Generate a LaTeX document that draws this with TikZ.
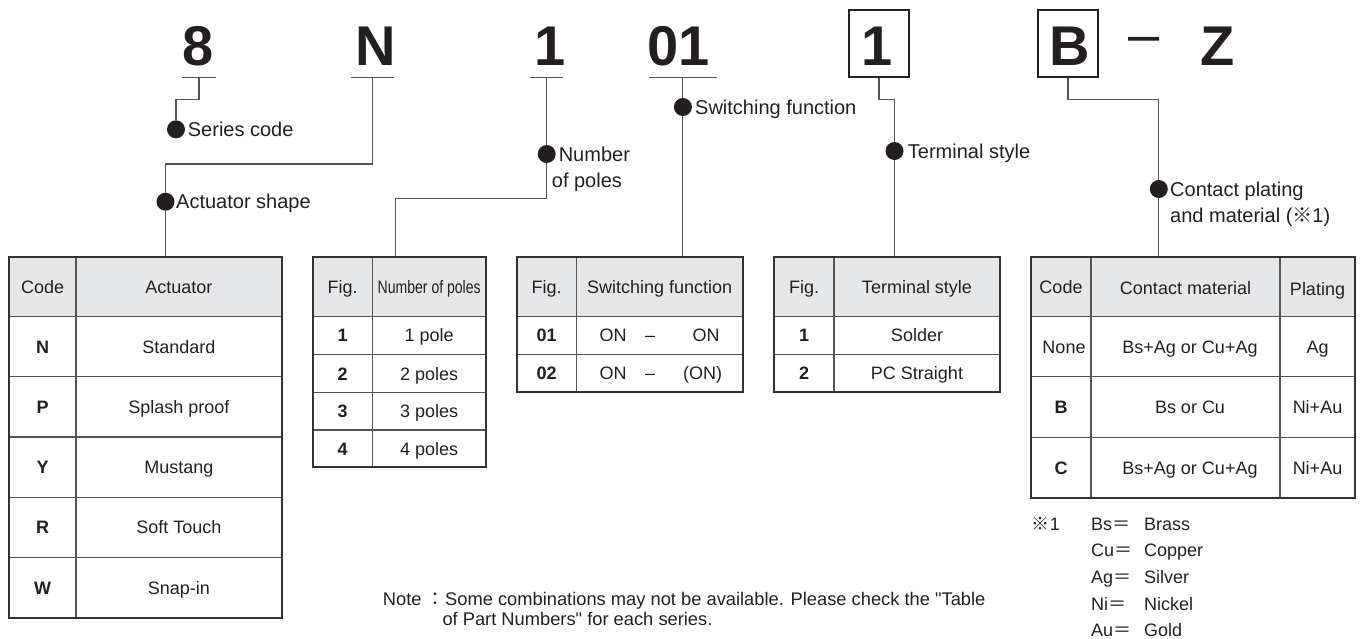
\documentclass[tikz,border=0pt]{standalone}
\usepackage{fontspec}
\setmainfont{Liberation Sans}
\newfontfamily\cjk{Noto Sans CJK JP}
\newfontfamily\narrowfont[FakeStretch=0.78]{Liberation Sans}
\newfontfamily\qfont[Ligatures=TeXOff]{Liberation Sans}
\definecolor{ink}{HTML}{231F20}
\definecolor{hdr}{HTML}{E6E7E8}
\definecolor{wire}{HTML}{555555}
\definecolor{rule}{HTML}{333333}
\newcommand{\dq}{{\qfont"}}
\tikzset{
  wireline/.style={draw=wire, line width=1.1pt},
  uline/.style={draw=wire, line width=1.1pt},
  bullet/.style={circle, fill=ink, inner sep=0pt, minimum size=18pt},
  lbl/.style={anchor=base west, font=\fontsize{20}{24}\selectfont, text=ink, inner sep=0pt},
  big/.style={anchor=base, font=\fontsize{56}{60}\selectfont\bfseries, text=ink, inner sep=0pt},
  dashchar/.style={anchor=base, font=\fontsize{56}{60}\selectfont, text=ink, inner sep=0pt},
  codebox/.style={draw=ink, line width=1.3pt, minimum width=60pt, minimum height=67pt, inner sep=0pt},
  cell/.style={inner sep=0pt, text height=13pt, text depth=0pt, text=ink, font=\fontsize{18}{22}\selectfont},
  codecell/.style={cell, font=\fontsize{18}{22}\selectfont\bfseries},
  outerrule/.style={draw=rule, line width=1.8pt},
  innerrule/.style={draw=wire, line width=1.2pt},
  small/.style={anchor=base west, inner sep=0pt, text=ink, font=\fontsize{18}{22}\selectfont},
  notetext/.style={anchor=base west, inner sep=0pt, text=ink, font=\fontsize{18.3}{22}\selectfont},
}
\begin{document}
\begin{tikzpicture}[x=1pt,y=-1pt]
\useasboundingbox (0,0) rectangle (1360,638);

% ---------- code characters ----------
\node[big] (c8) at (198,65.5) {8};
\node[big] (cN) at (376,65.5) {N};
\node[big] (c1) at (550,65.5) {1};
\node[big] (c01) at (678.5,65.5) {01};
\node[codebox] (b1) at (879,43.6) {};
\node[big] (c1b) at (877,65.5) {1};
\node[codebox] (bB) at (1068,43.6) {};
\node[big] (cB) at (1069.5,65.5) {B};
\node[dashchar] (cdash) at (1144,53) {–};
\node[big] (cZ) at (1217.5,65.5) {Z};

\coordinate (u8) at (199,77.3);
\coordinate (uN) at (372.7,77.3);
\coordinate (u1) at (546.7,77.3);
\coordinate (u01) at (682.9,77.3);
\draw[uline] (182,77.3) -- (216,77.3);
\draw[uline] (351,77.3) -- (394,77.3);
\draw[uline] (530,77.3) -- (563,77.3);
\draw[uline] (649,77.3) -- (717,77.3);

% ---------- bullets and labels ----------
\node[bullet] (dSeries) at (176,129.3) {};
\node[lbl] (lSeries) at (187.7,136.5) {Series code};
\node[bullet] (dAct) at (165.5,201.7) {};
\node[lbl] (lAct) at (176,208.7) {Actuator shape};
\node[bullet] (dPoles) at (546.7,154) {};
\node[lbl] (lPoles1) at (558.6,161) {Number};
\node[lbl] (lPoles2) at (551.7,187) {of poles};
\node[bullet] (dSw) at (682.9,107) {};
\node[lbl] (lSw) at (695,114) {Switching function};
\node[bullet] (dTerm) at (894.5,151) {};
\node[lbl] (lTerm) at (907.7,158) {Terminal style};
\node[bullet] (dCont) at (1158.8,189) {};
\node[lbl] (lCont1) at (1170,196) {Contact plating};
\node[lbl] (lCont2) at (1170,222) {and material ({\cjk ※}1)};

% table top attach points
\coordinate (T1top) at (165.5,256.7);
\coordinate (T2top) at (395.7,256.7);
\coordinate (T3top) at (682.9,256.7);
\coordinate (T4top) at (894.5,256.7);
\coordinate (T5top) at (1158.8,256.7);

% ---------- connectors ----------
\draw[wireline] (u8) -- (199,99.3) -| (dSeries);
\draw[wireline] (uN) -- (372.7,164) -| (dAct) -- (T1top);
\draw[wireline] (u1) -- (dPoles) -- (546.7,198.3) -| (T2top);
\draw[wireline] (u01) -- (dSw) -- (T3top);
\draw[wireline] (b1.south) -- (879,99.3) -| (dTerm) -- (T4top);
\draw[wireline] (bB.south) -- (1068,99.3) -| (dCont) -- (T5top);

% ---------- table 1 : actuator ----------
\fill[hdr] (9.3,256.7) rectangle (281.7,316.3);
\foreach \y in {316.3,376.6,436.9,497.2,557.5} \draw[innerrule] (9.3,\y) -- (281.7,\y);
\draw[innerrule] (76,256.7) -- (76,618);
\draw[outerrule] (9.3,256.7) rectangle (281.7,618);
\node[cell] (t1h1) at (42.7,286.5) {Code};
\node[cell] (t1h2) at (178.8,286.5) {Actuator};
\node[codecell] (t1c1) at (42.7,346.5) {N};
\node[cell] (t1v1) at (178.8,346.5) {Standard};
\node[codecell] (t1c2) at (42.7,406.8) {P};
\node[cell] (t1v2) at (178.8,406.8) {Splash proof};
\node[codecell] (t1c3) at (42.7,467.1) {Y};
\node[cell] (t1v3) at (178.8,467.1) {Mustang};
\node[codecell] (t1c4) at (42.7,527.4) {R};
\node[cell] (t1v4) at (178.8,527.4) {Soft Touch};
\node[codecell] (t1c5) at (42.7,587.7) {W};
\node[cell] (t1v5) at (178.8,587.7) {Snap-in};

% ---------- table 2 : poles ----------
\fill[hdr] (312.7,256.7) rectangle (485.7,316.3);
\foreach \y in {316.3,354.3,392.7,430} \draw[innerrule] (312.7,\y) -- (485.7,\y);
\draw[innerrule] (372.7,256.7) -- (372.7,467.3);
\draw[outerrule] (312.7,256.7) rectangle (485.7,467.3);
\node[cell] (t2h1) at (342.7,286.5) {Fig.};
\node[cell, font=\fontsize{18}{22}\narrowfont] (t2h2) at (429.2,286.5) {Number of poles};
\node[codecell] (t2c1) at (342.7,335.3) {1};
\node[cell] (t2v1) at (429.2,335.3) {1 pole};
\node[codecell] (t2c2) at (342.7,373.5) {2};
\node[cell] (t2v2) at (429.2,373.5) {2 poles};
\node[codecell] (t2c3) at (342.7,411.3) {3};
\node[cell] (t2v3) at (429.2,411.3) {3 poles};
\node[codecell] (t2c4) at (342.7,448.7) {4};
\node[cell] (t2v4) at (429.2,448.7) {4 poles};

% ---------- table 3 : switching function ----------
\fill[hdr] (516.7,256.7) rectangle (742.7,316.3);
\foreach \y in {316.3,354.3} \draw[innerrule] (516.7,\y) -- (742.7,\y);
\draw[innerrule] (576.7,256.7) -- (576.7,391.7);
\draw[outerrule] (516.7,256.7) rectangle (742.7,391.7);
\node[cell] (t3h1) at (546.7,286.5) {Fig.};
\node[cell] (t3h2) at (659.7,286.5) {Switching function};
\node[codecell] (t3c1) at (546.7,335.3) {01};
\node[cell] (t3a1) at (613,335.3) {ON};
\node[cell] (t3d1) at (650,335.3) {–};
\node[cell] (t3b1) at (706,335.3) {ON};
\node[codecell] (t3c2) at (546.7,373) {02};
\node[cell] (t3a2) at (613,373) {ON};
\node[cell] (t3d2) at (650,373) {–};
\node[cell] (t3b2) at (702.7,373) {(ON)};

% ---------- table 4 : terminal style ----------
\fill[hdr] (774,256.7) rectangle (1000,316.3);
\foreach \y in {316.3,354.3} \draw[innerrule] (774,\y) -- (1000,\y);
\draw[innerrule] (834,256.7) -- (834,391.7);
\draw[outerrule] (774,256.7) rectangle (1000,391.7);
\node[cell] (t4h1) at (804,286.5) {Fig.};
\node[cell] (t4h2) at (917,286.5) {Terminal style};
\node[codecell] (t4c1) at (804,335.3) {1};
\node[cell] (t4v1) at (917,335.3) {Solder};
\node[codecell] (t4c2) at (804,373) {2};
\node[cell] (t4v2) at (917,373) {PC Straight};

% ---------- table 5 : contact material ----------
\fill[hdr] (1031,256.7) rectangle (1355,316.3);
\foreach \y in {316.3,376.7,437.3} \draw[innerrule] (1031,\y) -- (1355,\y);
\draw[innerrule] (1091,256.7) -- (1091,497.7);
\draw[innerrule] (1280,256.7) -- (1280,497.7);
\draw[outerrule] (1031,256.7) rectangle (1355,497.7);
\node[cell] (t5h1) at (1061,286.5) {Code};
\node[cell] (t5h2) at (1185.5,287.5) {Contact material};
\node[cell] (t5h3) at (1317.5,288.5) {Plating};
\node[cell] (t5c1) at (1064,346.5) {None};
\node[cell] (t5m1) at (1190,346.5) {Bs+Ag or Cu+Ag};
\node[cell] (t5p1) at (1317.5,346.5) {Ag};
\node[codecell] (t5c2) at (1061,407) {B};
\node[cell] (t5m2) at (1190,407) {Bs or Cu};
\node[cell] (t5p2) at (1317.5,407) {Ni+Au};
\node[codecell] (t5c3) at (1061,467.5) {C};
\node[cell] (t5m3) at (1190,467.5) {Bs+Ag or Cu+Ag};
\node[cell] (t5p3) at (1317.5,467.5) {Ni+Au};

% ---------- footnote ----------
\node[small] (fn) at (1031.7,530) {{\cjk ※}1};
\node[small] (k1) at (1091,530) {Bs{\cjk ＝}};
\node[small] (v1) at (1144,530) {Brass};
\node[small] (k2) at (1091,556.7) {Cu{\cjk ＝}};
\node[small] (v2) at (1144,556.7) {Copper};
\node[small] (k3) at (1091,583.3) {Ag{\cjk ＝}};
\node[small] (v3) at (1144,583.3) {Silver};
\node[small] (k4) at (1091,610) {Ni{\cjk ＝}};
\node[small] (v4) at (1144,610) {Nickel};
\node[small] (k5) at (1091,636.5) {Au{\cjk ＝}};
\node[small] (v5) at (1144,636.5) {Gold};

% ---------- note ----------
\node[notetext] (nNote) at (382.7,605) {Note};
\node[inner sep=0pt, anchor=base, text=ink, font=\fontsize{18}{22}\selectfont] (nColon) at (435,605) {\cjk ：};
\node[notetext] (nL1) at (445,605) {Some combinations may not be available. Please check the \dq Table};
\node[notetext] (nL2) at (442.3,625) {of Part Numbers\dq\ for each series.};
\end{tikzpicture}
\end{document}
